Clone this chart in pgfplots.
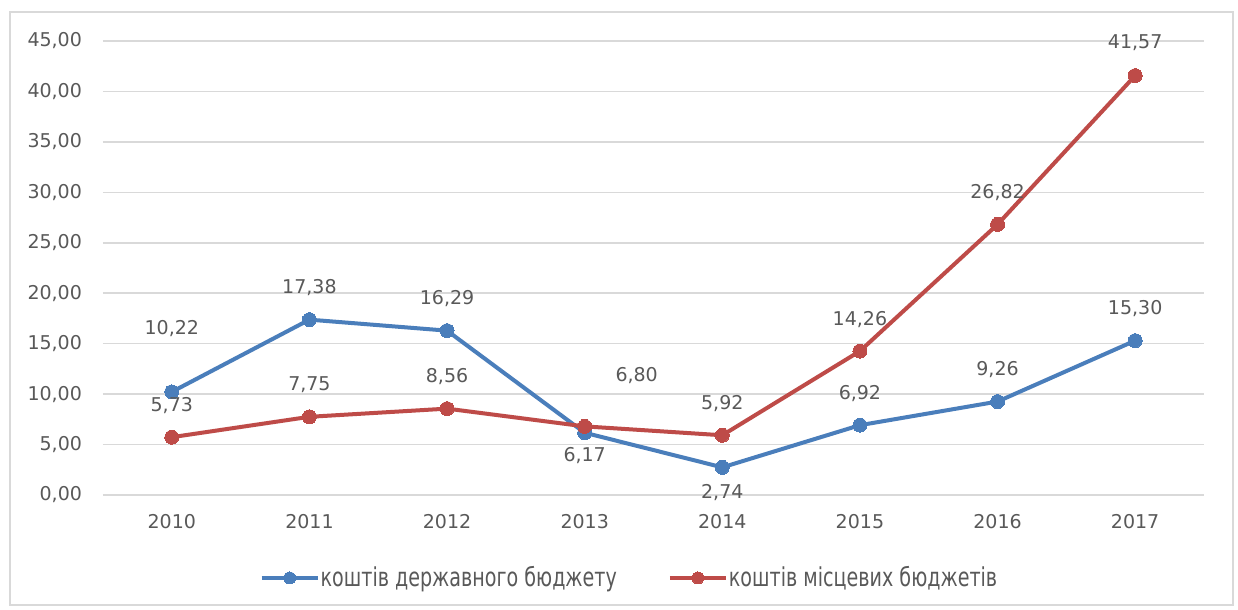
\documentclass[border=0pt]{standalone}
\usepackage{fontspec}
\setmainfont{DejaVu Sans}
\usepackage{pgfplots}
\pgfplotsset{compat=1.18}
\usepackage{pgfplotstable}
\definecolor{sblue}{HTML}{4A7EBB}
\definecolor{sred}{HTML}{BE4B48}
\definecolor{txt}{HTML}{595959}
\definecolor{gridc}{HTML}{D9D9D9}

\pgfplotstableread{
x y dx dy
0 10.22 0 31.5
1 17.38 0 16
2 16.29 0 16
3 6.17 0 -11.5
4 2.74 0 -12.5
5 6.92 0 16
6 9.26 0 16
7 15.30 0 16
}\blueT
\pgfplotstableread{
x y dx dy
0 5.73 0 16
1 7.75 0 16
2 8.56 0 16
3 6.80 26 25.5
4 5.92 0 16
5 14.26 0 16
6 26.82 0 16
7 41.57 0 16.5
}\redT

\begin{document}
\begin{tikzpicture}
\useasboundingbox (-51.5pt,-57.5pt) rectangle (567.5pt,247.5pt);
\fill[white] (-51.5pt,-57.5pt) rectangle (567.5pt,247.5pt);
\begin{axis}[
  at={(0pt,0pt)}, anchor=south west, scale only axis,
  width=550.5pt, height=227pt,
  xmin=-0.5, xmax=7.5, ymin=0, ymax=45,
  xtick={0,...,7}, xticklabels={2010,2011,2012,2013,2014,2015,2016,2017},
  ytick={0,5,...,45},
  axis line style={draw=none}, major tick style={draw=none},
  ymajorgrids, grid style={gridc, line width=0.75pt},
  /pgf/number format/assume math mode=true,
  yticklabel={\pgfmathprintnumber[fixed,fixed zerofill,precision=2,use comma,1000 sep={}]{\tick}},
  tick label style={font=\fontsize{9.5}{11}\selectfont, text=txt},
  yticklabel style={xshift=-7pt},
  xticklabel style={yshift=-6pt},
  clip=false,
  legend columns=2,
  legend style={at={(0.4777,-0.1828)}, anchor=center, draw=none, fill=none,
    font=\fontsize{13}{15}\selectfont, text=txt,
    /tikz/every even column/.append style={column sep=25pt},
    nodes={inner sep=0.5pt}},
  legend image code/.code={\draw[mark repeat=2, mark phase=2, #1, mark size=3pt] plot coordinates {(0pt,0pt) (14pt,0pt) (28pt,0pt)};},
  visualization depends on={\thisrow{dx} \as \dx},
  visualization depends on={\thisrow{dy} \as \dy},
  nodes near coords={\pgfmathprintnumber[fixed,fixed zerofill,precision=2,use comma]{\pgfplotspointmeta}},
  every node near coord/.append style={anchor=center, xshift=\dx pt, yshift=\dy pt,
    font=\fontsize{9.5}{11}\selectfont, text=txt, inner sep=0pt},
]
\addplot[sblue, line width=2pt, mark=*, mark size=3.5pt, mark options={fill=sblue, draw=sblue, line width=0pt}]
  table[x=x, y=y] {\blueT};
\addlegendentry{\scalebox{0.735}[1]{коштів державного бюджету}}
\addplot[sred, line width=2pt, mark=*, mark size=3.5pt, mark options={fill=sred, draw=sred, line width=0pt}]
  table[x=x, y=y] {\redT};
\addlegendentry{\scalebox{0.735}[1]{коштів місцевих бюджетів}}
\end{axis}
\draw[gridc, line width=1pt] (-46.5pt,-55pt) rectangle (565pt,241.5pt);
\end{tikzpicture}
\end{document}
